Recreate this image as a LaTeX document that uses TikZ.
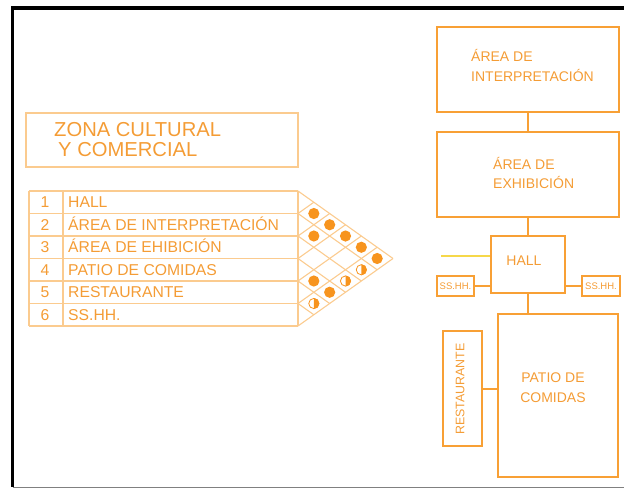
\documentclass[tikz,border=0pt]{standalone}
\usepackage{fontspec}
\setmainfont{Liberation Sans}
\usepackage{xcolor}
\usepackage{tikz}

\definecolor{boxor}{HTML}{F8A035}
\definecolor{txtor}{HTML}{F49C35}
\definecolor{lightor}{HTML}{FBCB8F}
\definecolor{dotor}{HTML}{F7941E}
\definecolor{hallyel}{HTML}{F6D84A}

\tikzset{
  box/.style={draw=boxor, line width=2pt, inner sep=0pt},
  conn/.style={draw=boxor, line width=2pt},
  grid/.style={draw=lightor, line width=1.1pt},
  lbl/.style={text=txtor, font=\fontsize{14}{19.5}\selectfont, align=left, inner sep=0pt},
  item/.style={text=txtor, font=\fontsize{15.7}{17}\selectfont, inner sep=0pt, text height=11.2pt, text depth=0pt},
  small/.style={text=txtor, font=\fontsize{9.5}{11}\selectfont, inner sep=0pt}
}

\begin{document}
\begin{tikzpicture}[x=1pt,y=-1pt]
    \useasboundingbox (0,0) rectangle (624,488);
    \draw[line width=3.5pt] (624,8) -- (12.5,8) -- (12.5,487);
    \draw[gray, line width=1pt] (12.5,487) -- (624,487);

    \node[draw=lightor, line width=1.2pt, minimum width=272pt, minimum height=54pt, inner sep=0pt] (title) at (162,140) {};
    \node[text=txtor, font=\fontsize{20.2}{20}\selectfont, align=left, inner sep=0pt, anchor=west] (titletxt) at (54,140) {ZONA CULTURAL\\\hspace{4pt}Y COMERCIAL};

    \foreach \i in {0,...,6} {
        \draw[grid] (29,{191+22.5*\i}) -- (298,{191+22.5*\i});
        \draw[grid] (298,{191+22.5*\i}) -- ++({(6-\i)*15.833},{(6-\i)*11.25});
        \draw[grid] (298,{191+22.5*\i}) -- ++({\i*15.833},{-\i*11.25});
    }
    \foreach \x in {29,63,298} \draw[grid] (\x,191) -- (\x,326);
    \foreach \t [count=\i] in {HALL,ÁREA DE INTERPRETACIÓN,ÁREA DE EHIBICIÓN,PATIO DE COMIDAS,RESTAURANTE,SS.HH.} {
        \node[item] (n\i) at (45,{191+22.5*(\i-0.5)}) {\i};
        \node[item, anchor=west] (t\i) at (68,{191+22.5*(\i-0.5)}) {\t};
    }
    \foreach \a/\b in {1/2,1/3,2/3,1/4,1/5,1/6,4/5,4/6}
        \fill[dotor] ({298+(\b-\a)*15.833},{191+22.5*((\a+\b)/2-0.5)}) circle (5.6pt);
    \foreach \a/\b in {2/6,3/6,5/6} {
        \coordinate (h) at ({298+(\b-\a)*15.833},{191+22.5*((\a+\b)/2-0.5)});
        \begin{scope}
            \clip (h) ++(0,-7) rectangle ++(7,14);
            \fill[dotor] (h) circle (5.5pt);
        \end{scope}
        \draw[dotor, line width=0.8pt] (h) circle (5.1pt);
    }

    \node[box, minimum width=182pt, minimum height=85pt] (interp) at (528,69.5) {};
    \node[box, minimum width=182pt, minimum height=85pt] (exhib) at (528,174.5) {};
    \node[box, minimum width=74pt, minimum height=57pt] (hall) at (528,264.5) {};
    \node[box, minimum width=37pt, minimum height=20pt] (sshl) at (455.5,286) {};
    \node[box, minimum width=38pt, minimum height=20pt] (sshr) at (601,286) {};
    \node[box, minimum width=120pt, minimum height=163pt] (patio) at (558,395.5) {};
    \node[box, minimum width=39pt, minimum height=115pt] (rest) at (462.5,388.5) {};

    \node[lbl, anchor=west] (interptxt) at (471,65.5) {ÁREA DE\\INTERPRETACIÓN};
    \node[lbl, anchor=west] (exhibtxt) at (493,173) {ÁREA DE\\EXHIBICIÓN};
    \node[lbl] (halltxt) at (524,261) {HALL};
    \node[lbl, align=center] (patiotxt) at (553,387.5) {PATIO DE\\COMIDAS};
    \node[small] at (sshl) {SS.HH.};
    \node[small] at (sshr) {SS.HH.};
    \node[text=txtor, font=\fontsize{12.4}{14}\selectfont, inner sep=0pt, rotate=90] (resttxt) at (460,389) {RESTAURANTE};

    \draw[conn] (interp.south) -- (exhib.north);
    \draw[conn] (exhib.south) -- (hall.north);
    \draw[conn] (hall.south) -- (hall.south |- patio.north);
    \draw[conn] (sshl.east) -- (sshl.east -| hall.west);
    \draw[conn] (sshr.west) -- (sshr.west -| hall.east);
    \draw[conn] (rest.east) -- (rest.east -| patio.west);
    \coordinate (feed) at (441,256);
    \draw[hallyel, line width=2pt] (feed) -- (feed -| hall.west);
\end{tikzpicture}
\end{document}
